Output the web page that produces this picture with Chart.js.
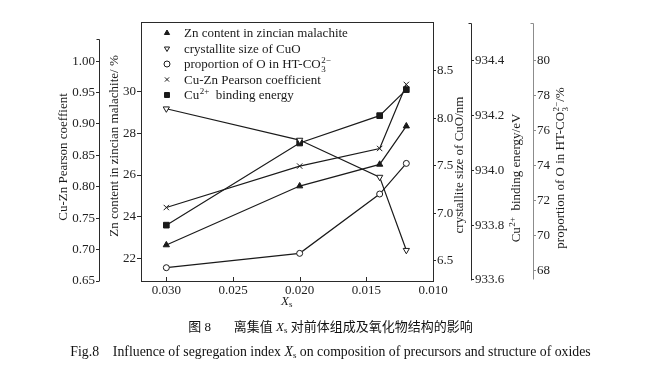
<!DOCTYPE html>
<html><head><meta charset="utf-8">
<script src="https://cdn.jsdelivr.net/npm/chart.js@4/dist/chart.umd.min.js"></script>
<style>
html,body{margin:0;padding:0;background:#fff;}
#wrap{position:relative;width:651px;height:375px;overflow:hidden;background:#fff;}
canvas{position:absolute;left:0;top:0;}
.cap{position:absolute;left:5px;width:651px;text-align:center;font-family:"Liberation Serif","Noto Sans CJK SC",serif;font-size:13px;line-height:16px;color:#111;white-space:pre;}
#cap2{font-size:13.8px;}
.cap sub{font-size:9px;vertical-align:-2px;line-height:0;}
</style></head><body>
<div id="wrap"><canvas id="c" width="651" height="375"></canvas>
<div class="cap" id="cap1" style="top:319px"></div>
<div class="cap" id="cap2" style="top:344px"></div>
</div>
<script>
// ---- data ----
const xValues = [0.030, 0.020, 0.014, 0.012];
const znContent = [22.64, 25.47, 26.51, 28.35];
const crystalliteSize = [8.10, 7.77, 7.38, 6.61];
const oProportion = [68.17, 68.99, 72.38, 74.13];
const pearsonCoeff = [0.767, 0.833, 0.861, 0.963];
const bindingEnergy = [933.80, 934.10, 934.20, 934.295];

const seriesLabels = [
  'Zn content in zincian malachite',
  'crystallite size of CuO',
  'proportion of O in HT-CO_{3}^{2\u2212}',
  'Cu-Zn Pearson coefficient',
  'Cu^{2+}  binding energy'
];
const xTicks = [0.030, 0.025, 0.020, 0.015, 0.010];
const pearsonTicks = [0.65, 0.70, 0.75, 0.80, 0.85, 0.90, 0.95, 1.00];
const znTicks = [22, 24, 26, 28, 30];
const crystTicks = [6.5, 7.0, 7.5, 8.0, 8.5];
const bindTicks = [933.6, 933.8, 934.0, 934.2, 934.4];
const oTicks = [68, 70, 72, 74, 76, 78, 80];

const pearsonTitle = 'Cu-Zn Pearson coeffient';
const znTitle = 'Zn content in zincian malachite/ %';
const crystTitle = 'crystallite size of CuO/nm';
const bindTitle = 'Cu^{2+}  binding energy/eV';
const oTitle = 'proportion of O in HT-CO_{3}^{2\u2212}/%';
const xTitle = ['X', 's'];
const captionCN = '图 8\u3000   离集值 <i>X</i><sub>s</sub> 对前体组成及氧化物结构的影响';
const captionEN = 'Fig.8    Influence of segregation index <i>X</i><sub>s</sub> on composition of precursors and structure of oxides';

document.getElementById('cap1').innerHTML = captionCN;
document.getElementById('cap2').innerHTML = captionEN;

// ---- helpers ----
const FONT = '"Liberation Serif", "Times New Roman", serif';
const INK = '#1a1a1a';

function parseRich(s){
  const segs=[]; let i=0, buf='';
  while(i<s.length){
    const c=s[i];
    if((c==='_'||c==='^') && s[i+1]==='{'){
      if(buf){segs.push({t:buf,k:'n'});buf='';}
      const j=s.indexOf('}',i);
      const txt=s.slice(i+2,j);
      const k=c==='_'?'sub':'sup';
      const last=segs[segs.length-1];
      if(last && last.k!=='n' && last.k!==k && !last.pair){ last.pair={t:txt,k:k}; }
      else segs.push({t:txt,k:k});
      i=j+1;
    } else {buf+=c;i++;}
  }
  if(buf)segs.push({t:buf,k:'n'});
  return segs;
}
function drawRich(ctx, s, x, y, size, align){
  const segs=parseRich(s);
  const small=Math.round(size*0.68);
  const fN=size+'px '+FONT, fS=small+'px '+FONT;
  let w=0;
  segs.forEach(g=>{
    if(g.k==='n'){ctx.font=fN; g.w=ctx.measureText(g.t).width;}
    else {ctx.font=fS; g.w=ctx.measureText(g.t).width; if(g.pair) g.w=Math.max(g.w, ctx.measureText(g.pair.t).width); g.w+=0.5;}
    w+=g.w;
  });
  let cx = align==='center' ? x-w/2 : x;
  const base = y + size*0.33;
  ctx.textAlign='left'; ctx.textBaseline='alphabetic';
  segs.forEach(g=>{
    if(g.k==='n'){ctx.font=fN; ctx.fillText(g.t,cx,base);}
    else{
      ctx.font=fS;
      const parts=[g]; if(g.pair) parts.push(g.pair);
      parts.forEach(p=>{
        const dy = p.k==='sup' ? -size*0.38 : size*0.25;
        ctx.fillText(p.t, cx+0.5, base+dy);
      });
    }
    cx+=g.w;
  });
}

function yAxis(pos, weight, min, max, ticks, dec, width, tickLen, pad, color){
  return {
    type:'linear', position:pos, weight:weight, min:min, max:max, bounds:'data',
    afterBuildTicks: s => { s.ticks = ticks.map(v=>({value:v})); },
    afterFit: s => { s.width = width; },
    border:{display:false},
    grid:{drawOnChartArea:false, drawTicks:true, tickLength:tickLen, color:color, tickColor:color, tickWidth:1},
    ticks:{padding:pad, color:'#222', font:{family:FONT, size:13}, autoSkip:false, maxRotation:0,
      callback: v => Number(v).toFixed(dec)},
    title:{display:false}
  };
}

function ds(label, arr, axis, style, opts){
  return Object.assign({
    label:label,
    data: xValues.map((x,i)=>({x:x, y:arr[i]})),
    yAxisID: axis,
    borderColor: INK, borderWidth: 1.2,
    pointStyle: style, pointRadius: 3.5, pointBorderWidth: 1,
    pointBorderColor: INK, pointBackgroundColor: INK,
    tension: 0, fill:false
  }, opts||{});
}

const datasets = [
  ds(seriesLabels[0], znContent, 'yZn', 'triangle', {pointRadius:3.6}),
  ds(seriesLabels[1], crystalliteSize, 'yCryst', 'triangle', {pointRotation:180, pointBackgroundColor:'#fff', pointRadius:3.6}),
  ds(seriesLabels[2], oProportion, 'yO', 'circle', {pointBackgroundColor:'#fff', pointRadius:3}),
  ds(seriesLabels[3], pearsonCoeff, 'yPearson', 'crossRot', {pointRadius:3.8}),
  ds(seriesLabels[4], bindingEnergy, 'yBind', 'rect', {pointRadius:4})
];

const deco = {
  id:'deco',
  beforeDatasetsDraw(chart){
    const ctx=chart.ctx, a=chart.chartArea, s=chart.scales;
    ctx.save();
    ctx.lineWidth=1; ctx.strokeStyle='#2a2a2a';
    ctx.strokeRect(Math.round(a.left)+0.5, Math.round(a.top)+0.5, Math.round(a.right-a.left), Math.round(a.bottom-a.top));
    xTicks.forEach(v=>{
      const px=Math.round(s.x.getPixelForValue(v))+0.5;
      ctx.beginPath(); ctx.moveTo(px, a.bottom); ctx.lineTo(px, a.bottom-4); ctx.stroke();
    });
    let p=s.yPearson, xx=Math.round(p.right)+0.5, yt=Math.round(p.getPixelForValue(1.036))+0.5;
    ctx.beginPath(); ctx.moveTo(xx, yt); ctx.lineTo(xx, Math.round(p.getPixelForValue(0.65))+0.5); ctx.moveTo(xx-3, yt); ctx.lineTo(xx, yt); ctx.stroke();
    p=s.yBind; xx=Math.round(p.left)+0.5; yt=Math.round(a.top)+1.5;
    ctx.beginPath(); ctx.moveTo(xx, yt); ctx.lineTo(xx, Math.round(p.getPixelForValue(933.6))+0.5); ctx.moveTo(xx-3, yt); ctx.lineTo(xx, yt); ctx.stroke();
    p=s.yO; xx=Math.round(p.left)+0.5;
    ctx.strokeStyle='#8c8c8c';
    ctx.beginPath(); ctx.moveTo(xx, yt); ctx.lineTo(xx, Math.round(p.getPixelForValue(67.5))+0.5); ctx.moveTo(xx-3, yt); ctx.lineTo(xx, yt); ctx.stroke();
    ctx.restore();
  },
  afterDatasetsDraw(chart){
    const ctx=chart.ctx, a=chart.chartArea, s=chart.scales;
    ctx.save();
    ctx.fillStyle=INK;
    chart.data.datasets.forEach((d,i)=>{
      const y=a.top+11+i*15.5;
      const sx=a.left+26;
      ctx.save();
      ctx.lineWidth=1; ctx.strokeStyle=INK;
      ctx.fillStyle = d.pointBackgroundColor;
      Chart.helpers.drawPoint(ctx, {pointStyle:d.pointStyle, rotation:d.pointRotation||0, radius:(d.pointStyle==='rect'?3.5:3), borderWidth:1}, sx, y);
      ctx.restore();
      ctx.fillStyle=INK;
      drawRich(ctx, d.label, a.left+43, y, 13, 'left');
    });
    const tt=[[pearsonTitle, s.yPearson.left+23, 157],[znTitle, s.yZn.left+15, 146],
              [crystTitle, s.yCryst.left+26, 165],[bindTitle, s.yBind.left+45, 178],[oTitle, s.yO.left+27, 168]];
    tt.forEach(t=>{
      ctx.save(); ctx.translate(t[1], t[2]); ctx.rotate(-Math.PI/2);
      ctx.fillStyle=INK; drawRich(ctx, t[0], 0, 0, 13, 'center'); ctx.restore();
    });
    ctx.font='italic 13px '+FONT; ctx.textBaseline='alphabetic'; ctx.textAlign='left';
    const wX=ctx.measureText(xTitle[0]).width;
    const cx=(a.left+a.right)/2-6;
    ctx.fillText(xTitle[0], cx, 305);
    ctx.font='9px '+FONT; ctx.fillText(xTitle[1], cx+wX, 307);
    ctx.restore();
  }
};

new Chart(document.getElementById('c'), {
  type:'line',
  data:{datasets:datasets},
  options:{
    responsive:false, animation:false, devicePixelRatio:1,
    layout:{padding:{left:40, right:68, top:22, bottom:64}},
    plugins:{legend:{display:false}, tooltip:{enabled:false}, title:{display:false}},
    scales:{
      x:{type:'linear', position:'bottom', reverse:true, min:0.010, max:0.0319, bounds:'data',
        afterBuildTicks: s => { s.ticks = xTicks.map(v=>({value:v})); },
        afterFit: s => { s.height = 30; },
        border:{display:false},
        grid:{drawOnChartArea:false, drawTicks:false},
        ticks:{padding:2, color:'#222', font:{family:FONT, size:13}, autoSkip:false, maxRotation:0,
          callback: v => Number(v).toFixed(3)},
        title:{display:false}
      },
      yPearson: yAxis('left', 2, 0.65, 1.0624, pearsonTicks, 2, 59, 3, 1, '#2a2a2a'),
      yZn: yAxis('left', 1, 20.91, 33.35, znTicks, 0, 42, 4, 1, '#2a2a2a'),
      yCryst: yAxis('right', 1, 6.286, 9.013, crystTicks, 1, 38, 3, 1, '#2a2a2a'),
      yBind: yAxis('right', 2, 933.596, 934.542, bindTicks, 1, 62, 3, 1, '#2a2a2a'),
      yO: yAxis('right', 3, 67.41, 82.21, oTicks, 0, 50, 3, 1, '#8c8c8c')
    }
  },
  plugins:[deco]
});
</script>
</body></html>
